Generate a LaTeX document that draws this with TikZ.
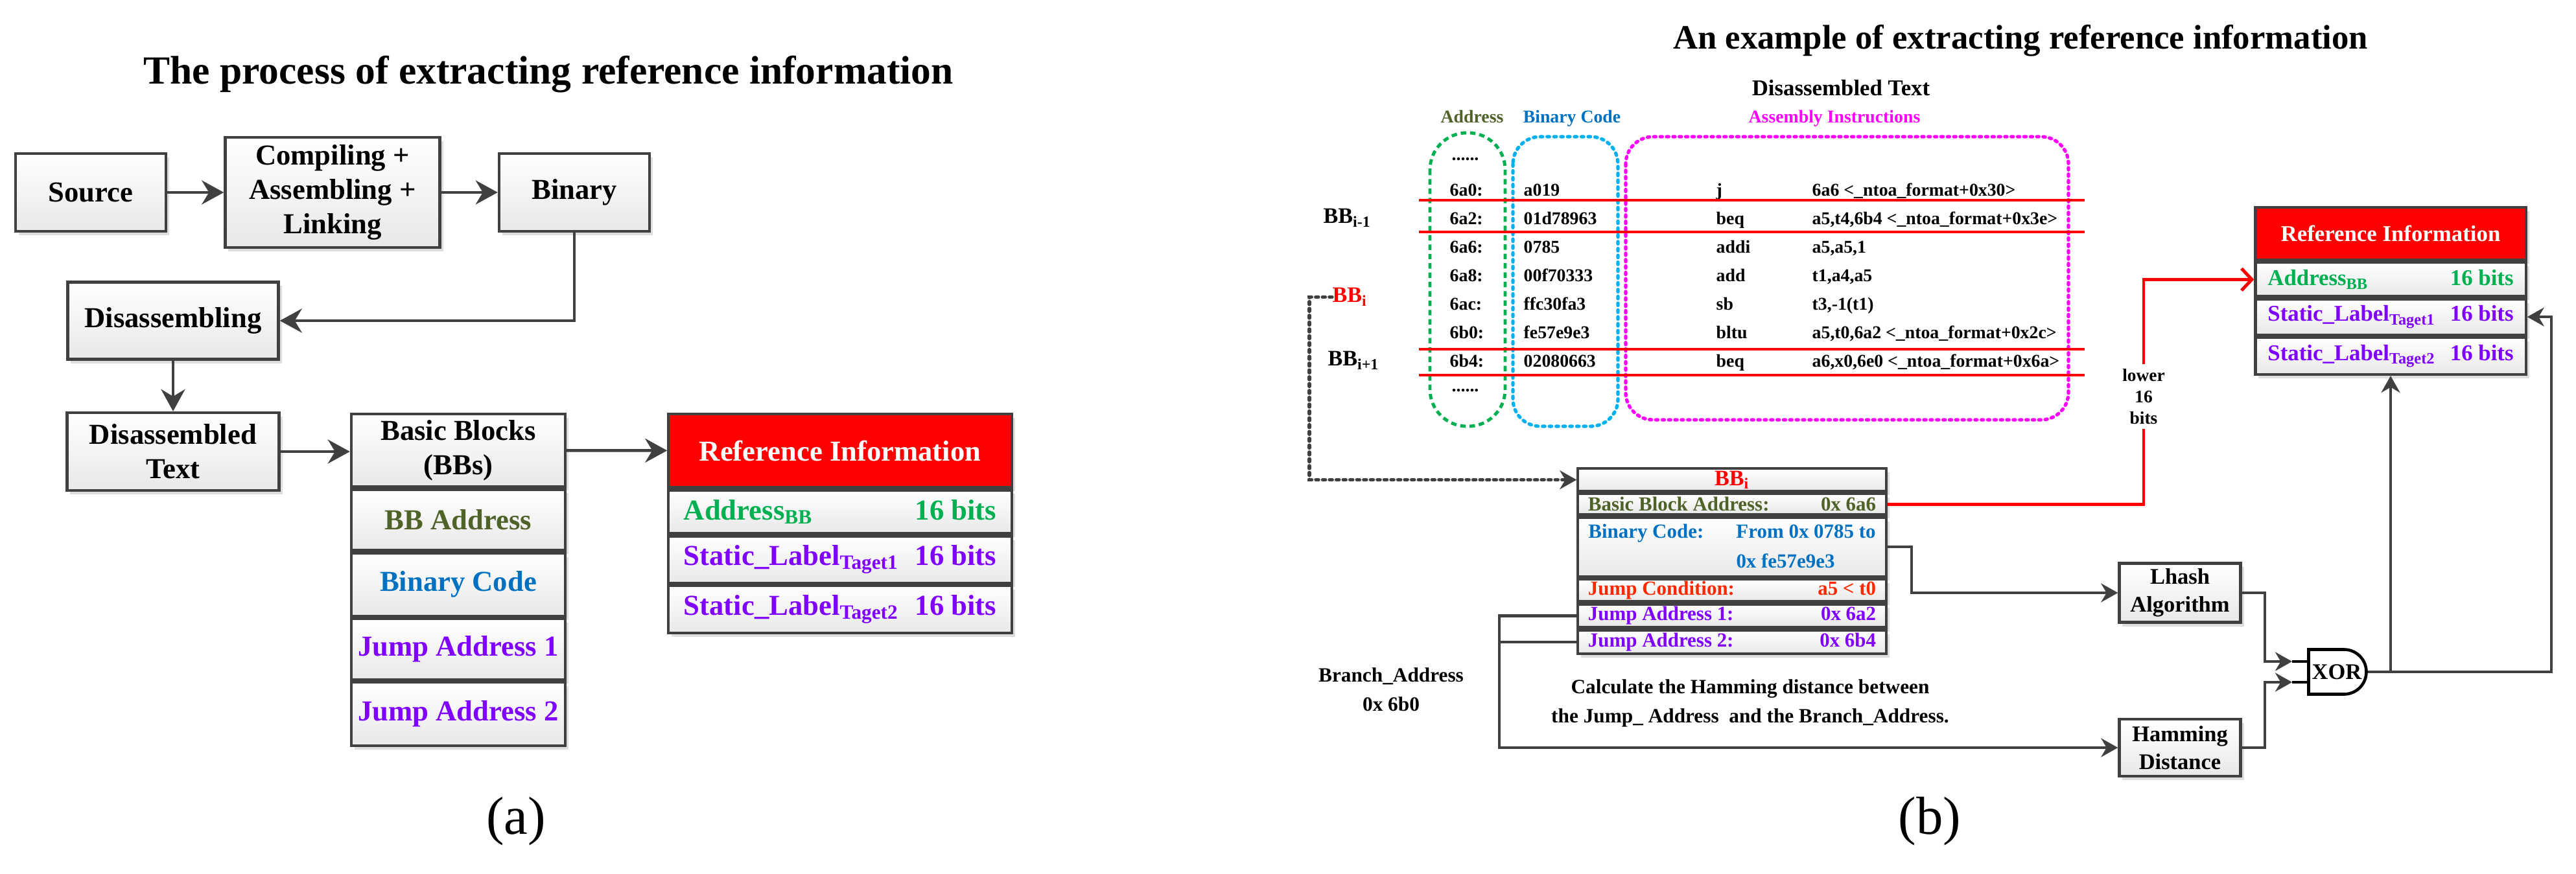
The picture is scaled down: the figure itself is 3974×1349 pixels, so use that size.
\documentclass[tikz,border=0pt]{standalone}
\usepackage{fontspec}
\setmainfont{Liberation Serif}
\usetikzlibrary{arrows.meta, positioning, shadows, shapes.misc}
\definecolor{linegray}{RGB}{64,64,64}
\definecolor{olivetxt}{RGB}{79,98,40}
\definecolor{bluetxt}{RGB}{0,112,192}
\definecolor{violettxt}{RGB}{127,0,255}
\definecolor{greentxt}{RGB}{0,176,80}
\definecolor{cyanline}{RGB}{0,176,240}
\definecolor{magline}{RGB}{255,0,255}
\definecolor{condred}{RGB}{255,40,0}
\definecolor{headred}{RGB}{255,0,0}

\begin{document}
\begin{tikzpicture}[
    x=0.01cm, y=-0.01cm,
    font=\bfseries,
    box/.style={draw=linegray, line width=1.2pt, top color=white, bottom color=black!9, drop shadow={shadow xshift=0.05cm, shadow yshift=-0.06cm, fill=black!13, opacity=1}, align=center, inner sep=0pt},
    head/.style={box, top color=headred, bottom color=headred, text=white},
    txtA/.style={font=\bfseries\fontsize{12.7}{15}\selectfont},
    txtRow/.style={font=\bfseries\fontsize{7.9}{9.5}\selectfont, inner sep=0pt},
    txtHead/.style={font=\bfseries\fontsize{9.9}{12}\selectfont, inner sep=0pt},
    txtCell/.style={font=\bfseries\fontsize{8.8}{13}\selectfont},
    txtBox/.style={font=\bfseries\fontsize{9.8}{12.3}\selectfont},
    txtNote/.style={font=\bfseries\fontsize{8.9}{12.8}\selectfont},
    txtBB/.style={font=\bfseries\fontsize{9.7}{11}\selectfont, inner sep=0pt},
    txtLabel/.style={font=\normalfont\fontsize{23.5}{28}\selectfont},
    arrowa/.style={linegray, line width=1.3pt, -{Stealth[length=3.4mm, width=3.7mm]}},
    arrowb/.style={linegray, line width=1.2pt, -{Stealth[length=2.6mm, width=2.9mm]}},
    lineb/.style={linegray, line width=1.2pt},
    redline/.style={headred, line width=1.4pt},
    dotline/.style={linegray, line width=1.5pt, line cap=round, dash pattern=on 1.2pt off 1.8pt, -{Stealth[length=2.6mm, width=2.9mm]}}
]
\useasboundingbox (0,0) rectangle (3974,1349);

% (a) the process
\node[anchor=base, font=\bfseries\fontsize{17.5}{21}\selectfont] (titlea) at (846,130) {The process of extracting reference information};

\node (src) [box, txtA, minimum width=2.32cm, minimum height=1.2cm] at (140,297) {Source};
\node (comp) [box, txtA, minimum width=3.31cm, minimum height=1.7cm] at (513,297) {Compiling +\\Assembling +\\Linking};
\node (bin) [box, txtA, minimum width=2.32cm, minimum height=1.2cm] at (886,297) {Binary};
\node (disa) [box, txtA, minimum width=3.25cm, minimum height=1.19cm] at (267,495) {Disassembling};
\node (dtext) [box, txtA, minimum width=3.27cm, minimum height=1.2cm] at (267,697) {Disassembled\\Text};

\node (bbs) [box, txtA, minimum width=3.3cm, minimum height=1.12cm, anchor=north] at (707,637) {Basic Blocks\\(BBs)};
\node (bbaddr) [box, txtA, minimum width=3.3cm, minimum height=0.94cm, below=0pt of bbs, text=olivetxt] {BB Address};
\node (bbcode) [box, txtA, minimum width=3.3cm, minimum height=0.97cm, below=0pt of bbaddr, text=bluetxt] {Binary Code};
\node (bbjmp1) [box, txtA, minimum width=3.3cm, minimum height=0.94cm, below=0pt of bbcode, text=violettxt] {Jump Address 1};
\node (bbjmp2) [box, txtA, minimum width=3.3cm, minimum height=0.98cm, below=0pt of bbjmp1, text=violettxt] {Jump Address 2};

\node (refa) [head, txtA, minimum width=5.29cm, minimum height=1.13cm, anchor=north] at (1296,637) {Reference Information};
\node (refaaddr) [box, txtA, minimum width=5.29cm, minimum height=0.67cm, below=0pt of refa, text=greentxt] {\makebox[4.82cm]{Address\textsubscript{BB}\hfill 16 bits}};
\node (refasl1) [box, txtA, minimum width=5.29cm, minimum height=0.72cm, below=0pt of refaaddr, text=violettxt] {\makebox[4.82cm]{Static\_Label\textsubscript{Taget1}\hfill 16 bits}};
\node (refasl2) [box, txtA, minimum width=5.29cm, minimum height=0.73cm, below=0pt of refasl1, text=violettxt] {\makebox[4.82cm]{Static\_Label\textsubscript{Taget2}\hfill 16 bits}};

\draw[arrowa] (src) -- (comp);
\draw[arrowa] (comp) -- (bin);
\draw[arrowa] (bin.south) |- (disa.east);
\draw[arrowa] (disa) -- (dtext);
\draw[arrowa] (dtext.east) -- (bbs.west |- dtext.east);
\draw[arrowa] (bbs) -- (refa);

\node (labela) [txtLabel] at (796,1268) {(a)};

% (b) the example
\node[anchor=base, font=\bfseries\fontsize{15}{18}\selectfont] (titleb) at (3117,76) {An example of extracting reference information};
\node (dishead) [txtHead, anchor=base] at (2840,148) {Disassembled Text};
\node (coladdr) [txtRow, anchor=base, text=olivetxt] at (2271,190) {Address};
\node (colcode) [txtRow, anchor=base, text=bluetxt] at (2425,190) {Binary Code};
\node (colasm) [txtRow, anchor=base, text=magline] at (2830,190) {Assembly Instructions};

\draw[greentxt, line width=1.4pt, dash pattern=on 2.4pt off 1.7pt, rounded corners=0.57cm] (2206,205) rectangle (2322,658);
\draw[cyanline, line width=1.5pt, line cap=round, dash pattern=on 1.0pt off 2.0pt, rounded corners=0.42cm] (2334,211) rectangle (2496,658);
\draw[magline, line width=1.5pt, line cap=round, dash pattern=on 0.9pt off 1.9pt, rounded corners=0.42cm] (2508,211) rectangle (3191,648);

\node (dotstop) [txtRow, anchor=base west] at (2239,248) {......};
\node (dotsbot) [txtRow, anchor=base west] at (2239,605) {......};
\foreach \k/\rAdr/\rCode/\rMn/\rOp in {
    0/6a0:/a019/j/{6a6 <\_ntoa\_format+0x30>},
    1/6a2:/01d78963/beq/{a5,t4,6b4 <\_ntoa\_format+0x3e>},
    2/6a6:/0785/addi/{a5,a5,1},
    3/6a8:/00f70333/add/{t1,a4,a5},
    4/6ac:/ffc30fa3/sb/{t3,-1(t1)},
    5/6b0:/fe57e9e3/bltu/{a5,t0,6a2 <\_ntoa\_format+0x2c>},
    6/6b4:/02080663/beq/{a6,x0,6e0 <\_ntoa\_format+0x6a>}}{
  \node (adr\k) [txtRow, anchor=base west] at (2236,303+44*\k) {\rAdr};
  \node (code\k) [txtRow, anchor=base west] at (2350,303+44*\k) {\rCode};
  \node (mn\k) [txtRow, anchor=base west] at (2647,303+44*\k) {\rMn};
  \node (op\k) [txtRow, anchor=base west] at (2795,303+44*\k) {\rOp};
}
\foreach \ry in {309,358,539,579}
  \draw[redline] (2189,\ry) -- (3216,\ry);

\node (bbprev) [txtBB, anchor=base west] at (2041,345) {BB\textsubscript{i-1}};
\node (bbcur) [txtBB, anchor=base west, text=headred] at (2055,467) {BB\textsubscript{i}};
\node (bbnext) [txtBB, anchor=base west] at (2048,565) {BB\textsubscript{i+1}};

\node (bbi) [box, txtBB, minimum width=4.75cm, minimum height=0.35cm, anchor=north, text=headred] at (2672,721) {BB\textsubscript{i}};
\node (bbiaddr) [box, txtCell, minimum width=4.75cm, minimum height=0.32cm, below=0pt of bbi, text=olivetxt] {\makebox[4.44cm]{Basic Block Address:\hfill 0x 6a6}};
\node (bbicode) [box, txtCell, minimum width=4.75cm, minimum height=0.86cm, below=0pt of bbiaddr, text=bluetxt] {\begin{tabular}{@{}p{2.28cm}@{}l@{}}Binary Code: & From 0x 0785 to\\ & 0x fe57e9e3\end{tabular}};
\node (bbicond) [box, txtCell, minimum width=4.75cm, minimum height=0.34cm, below=0pt of bbicode, text=condred] {\makebox[4.44cm]{Jump Condition:\hfill a5 < t0}};
\node (bbij1) [box, txtCell, minimum width=4.75cm, minimum height=0.36cm, below=0pt of bbicond, text=violettxt] {\makebox[4.44cm]{Jump Address 1:\hfill 0x 6a2}};
\node (bbij2) [box, txtCell, minimum width=4.75cm, minimum height=0.36cm, below=0pt of bbij1, text=violettxt] {\makebox[4.44cm]{Jump Address 2:\hfill 0x 6b4}};

\node (refb) [head, txtHead, minimum width=4.17cm, minimum height=0.81cm, anchor=north] at (3688,318) {Reference Information};
\node (refbaddr) [box, txtHead, minimum width=4.17cm, minimum height=0.52cm, below=0pt of refb, text=greentxt] {\makebox[3.79cm]{Address\textsubscript{BB}\hfill 16 bits}};
\node (refbsl1) [box, txtHead, minimum width=4.17cm, minimum height=0.55cm, below=0pt of refbaddr, text=violettxt] {\makebox[3.79cm]{Static\_Label\textsubscript{Taget1}\hfill 16 bits}};
\node (refbsl2) [box, txtHead, minimum width=4.17cm, minimum height=0.57cm, below=0pt of refbsl1, text=violettxt] {\makebox[3.79cm]{Static\_Label\textsubscript{Taget2}\hfill 16 bits}};

\node (lhash) [box, txtBox, minimum width=1.87cm, minimum height=0.91cm] at (3363,915) {Lhash\\Algorithm};
\node (ham) [box, txtBox, minimum width=1.87cm, minimum height=0.88cm] at (3363,1154) {Hamming\\Distance};
\node (xor) [draw=black, line width=1.3pt, rounded rectangle, rounded rectangle left arc=none, minimum width=0.89cm, minimum height=0.69cm, inner sep=0pt, txtBox] at (3605,1037) {XOR};
\coordinate (xin1) at (3536,1021);
\coordinate (xin2) at (3536,1053);
\draw[black, line width=1.3pt] (xin1) -- (xin1 -| xor.west);
\draw[black, line width=1.3pt] (xin2) -- (xin2 -| xor.west);

\node (lowbits) [txtRow, align=center, font=\bfseries\fontsize{7.8}{9.4}\selectfont, inner sep=2pt] at (3307,612) {lower\\16\\bits};
\node (branch) [txtNote, align=center] at (2146,1064) {Branch\_Address\\0x 6b0};
\node (calc) [txtNote, align=center] at (2700,1085) {Calculate the Hamming distance between\\the Jump\_ Address\ \ and the Branch\_Address.};

\draw[dotline] (bbcur.west) -- ++(-35,0) |- (bbi.west);
\draw[redline] (bbiaddr.east) -| (lowbits.south);
\draw[redline, -{Straight Barb[length=1.6mm, width=3.4mm]}] (lowbits.north) |- (refbaddr.west);
\draw[arrowb] (bbicode.east) -- ++(37,0) |- (lhash.west);
\draw[arrowb] (bbij1.west) -- ++(-119,0) |- (ham.west);
\draw[lineb] (bbij2.west) -- ++(-119,0);
\draw[arrowb] (lhash.east) -- ++(35,0) |- (xin1);
\draw[arrowb] (ham.east) -- ++(35,0) |- (xin2);
\draw[arrowb] (xor.east) -| (refbsl2.south);
\draw[arrowb] (xor.east) -- ++(283,0) |- (refbsl1.east);

\node (labelb) [txtLabel] at (2977,1268) {(b)};

\end{tikzpicture}
\end{document}
